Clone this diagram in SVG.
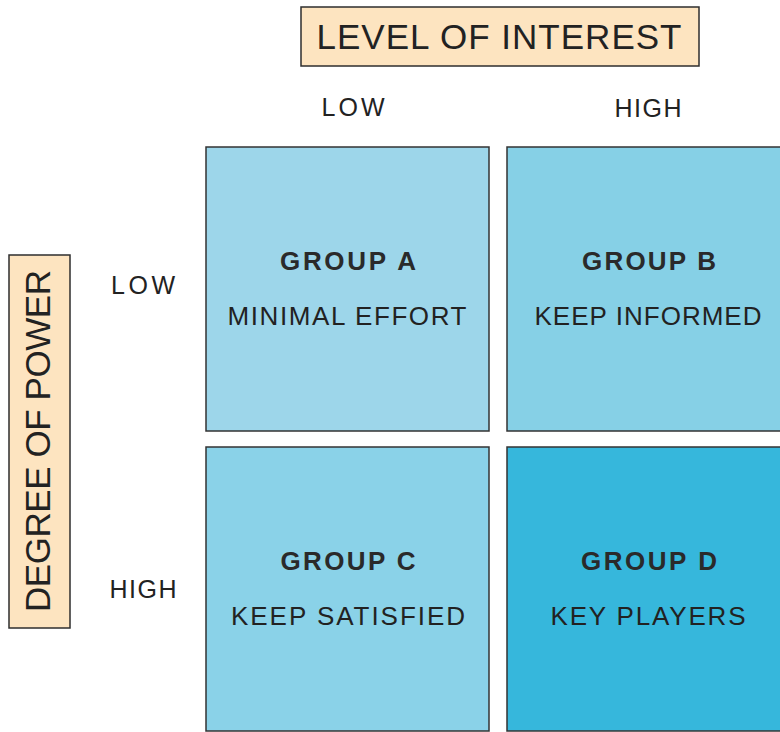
<svg xmlns="http://www.w3.org/2000/svg" width="780" height="732" viewBox="0 0 780 732">
<style>
.lbl{fill:#fde4c0;stroke:#2e2e2e;stroke-width:1.5}
.box{stroke:#333;stroke-width:1.5}
text{font-family:"Liberation Sans","DejaVu Sans",sans-serif;fill:#222;text-anchor:middle}
.hd{font-size:35px}
.ax{font-size:25px}
.gp{font-size:26px;font-weight:bold;fill:#2a2a2a}
.ds{font-size:26px}
</style>
<rect width="780" height="732" fill="#ffffff"/>
<g id="header-interest">
<rect class="lbl" x="301" y="7" width="398" height="59"/>
<text class="hd" x="499" y="49" textLength="365" lengthAdjust="spacing">LEVEL OF INTEREST</text>
</g>
<g id="header-power">
<rect class="lbl" x="9" y="255" width="61" height="373"/>
<text class="hd" transform="translate(50 441) rotate(-90)" x="0" y="0" textLength="342" lengthAdjust="spacing">DEGREE OF POWER</text>
</g>
<g id="axis-labels">
<text class="ax" x="353" y="116" textLength="63" lengthAdjust="spacing">LOW</text>
<text class="ax" x="648" y="117" textLength="67" lengthAdjust="spacing">HIGH</text>
<text class="ax" x="143" y="294" textLength="64" lengthAdjust="spacing">LOW</text>
<text class="ax" x="143" y="598" textLength="67" lengthAdjust="spacing">HIGH</text>
</g>
<g id="group-a">
<rect class="box" x="206" y="147" width="283" height="284" fill="#9dd6ea"/>
<text class="gp" x="348" y="270" textLength="136" lengthAdjust="spacing">GROUP A</text>
<text class="ds" x="347" y="325" textLength="239" lengthAdjust="spacing">MINIMAL EFFORT</text>
</g>
<g id="group-b">
<rect class="box" x="507" y="147" width="280" height="284" fill="#86d0e6"/>
<text class="gp" x="649" y="270" textLength="134" lengthAdjust="spacing">GROUP B</text>
<text class="ds" x="648" y="325" textLength="227" lengthAdjust="spacing">KEEP INFORMED</text>
</g>
<g id="group-c">
<rect class="box" x="206" y="447" width="283" height="284" fill="#8ad2e8"/>
<text class="gp" x="348" y="570" textLength="135" lengthAdjust="spacing">GROUP C</text>
<text class="ds" x="348" y="625" textLength="234" lengthAdjust="spacing">KEEP SATISFIED</text>
</g>
<g id="group-d">
<rect class="box" x="507" y="447" width="280" height="284" fill="#36b7dc"/>
<text class="gp" x="649" y="570" textLength="136" lengthAdjust="spacing">GROUP D</text>
<text class="ds" x="648" y="625" textLength="195" lengthAdjust="spacing">KEY PLAYERS</text>
</g>
<g id="connectors"></g>
</svg>
